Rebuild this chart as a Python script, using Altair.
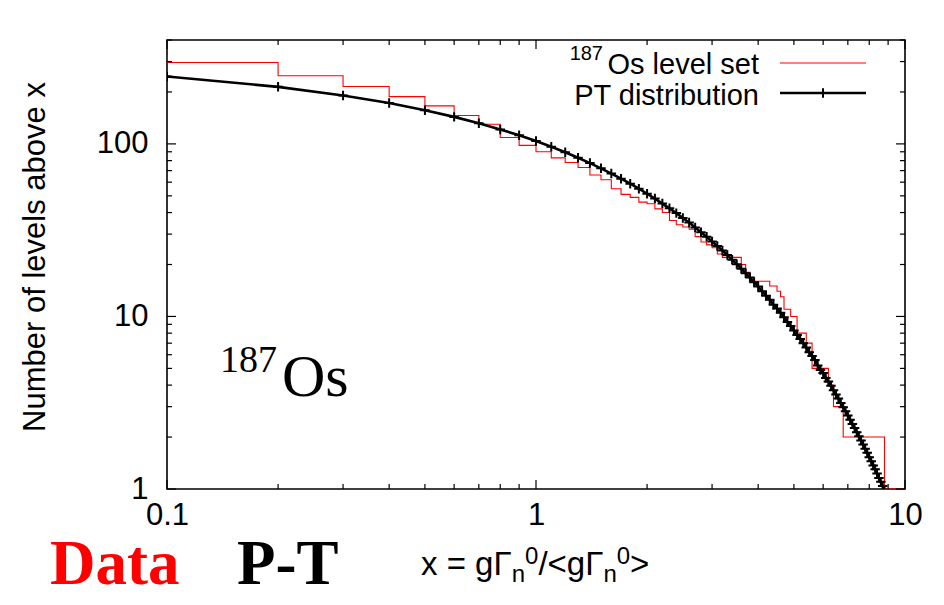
import altair as alt
import pandas as pd

# Porter-Thomas curve
pt_x = [0.1, 0.2, 0.3, 0.4, 0.5, 0.6, 0.7, 0.8, 0.9, 1.0,
        1.1, 1.2, 1.3, 1.4, 1.5, 1.6, 1.7, 1.8, 1.9, 2.0,
        2.1, 2.2, 2.3, 2.4, 2.5, 2.6, 2.7, 2.8, 2.9, 3.0,
        3.1, 3.2, 3.3, 3.4, 3.5, 3.6, 3.7, 3.8, 3.9, 4.0,
        4.1, 4.2, 4.3, 4.4, 4.5, 4.6, 4.7, 4.8, 4.9, 5.0,
        5.1, 5.2, 5.3, 5.4, 5.5, 5.6, 5.7, 5.8, 5.9, 6.0,
        6.1, 6.2, 6.3, 6.4, 6.5, 6.6, 6.7, 6.8, 6.9, 7.0,
        7.1, 7.2, 7.3, 7.4, 7.5, 7.6, 7.7, 7.8, 7.9, 8.0,
        8.1, 8.2, 8.3, 8.4, 8.5, 8.6, 8.7, 8.8]
pt_n = [245.8, 214.1, 190.9, 172.4, 156.8, 143.4, 131.7, 121.3, 112.1, 103.8,
        96.2, 89.4, 83.1, 77.4, 72.2, 67.3, 62.9, 58.8, 55.0, 51.4,
        48.2, 45.1, 42.3, 39.7, 37.2, 35.0, 32.8, 30.8, 29.0, 27.2,
        25.6, 24.1, 22.7, 21.3, 20.1, 18.9, 17.8, 16.8, 15.8, 14.9,
        14.0, 13.2, 12.5, 11.7, 11.1, 10.5, 9.9, 9.3, 8.8, 8.3,
        7.8, 7.4, 7.0, 6.6, 6.2, 5.9, 5.6, 5.2, 4.9, 4.7,
        4.4, 4.2, 3.96, 3.73, 3.53, 3.34, 3.15, 2.98, 2.82, 2.67,
        2.52, 2.38, 2.26, 2.13, 2.02, 1.91, 1.81, 1.71, 1.62, 1.53,
        1.45, 1.37, 1.30, 1.23, 1.16, 1.10, 1.04, 0.98]

# 187Os level set: cumulative count, step changes
lev_x = [0.05, 0.1, 0.2, 0.3, 0.4, 0.5, 0.6, 0.7, 0.8, 0.9, 1.0,
         1.1, 1.2, 1.3, 1.4, 1.5, 1.6, 1.7, 1.8, 1.9, 2.0,
         2.1, 2.2, 2.3, 2.4, 2.5, 2.6, 2.7, 2.8, 2.9, 3.0,
         3.1, 3.2, 3.6, 3.7, 3.8, 4.3, 4.5, 4.6, 4.7, 4.9,
         5.1, 5.4, 5.6, 6.2, 6.4, 6.8, 8.8, 10.0]
lev_n = [325, 296, 248, 215, 188, 166, 146, 130, 109, 98, 90,
         83, 78, 73, 66, 62, 55, 51, 49, 46, 45,
         42, 40, 36, 34, 33, 32, 29, 27, 26, 25,
         23, 22, 20, 18, 16, 15, 14, 13, 11, 10,
         8, 7, 5, 4, 3, 2, 1, 1]

x_major = [0.1, 1, 10]
x_minor = [0.2, 0.3, 0.4, 0.5, 0.6, 0.7, 0.8, 0.9, 2, 3, 4, 5, 6, 7, 8, 9]
y_major = [1, 10, 100]
y_minor = [2, 3, 4, 5, 6, 7, 8, 9, 20, 30, 40, 50, 60, 70, 80, 90, 200, 300, 400]

W, H = 738, 449
SANS = "Liberation Sans"
SERIF = "Liberation Serif"

xscale = alt.Scale(type="log", domain=[0.1, 10], nice=False)
yscale = alt.Scale(type="log", domain=[1, 400], nice=False)

pt_df = pd.DataFrame({"x": pt_x, "n": pt_n})
lev_df = pd.DataFrame({"x": lev_x, "n": lev_n})

xaxis = alt.Axis(values=x_major, format="~g", ticks=False, tickSize=0, domain=False, grid=False,
                 labelFont=SANS, labelFontSize=31, labelColor="black", labelPadding=11,
                 labelFlush=False, labelOverlap=False, title=None)
yaxis = alt.Axis(values=y_major, format="~g", ticks=False, tickSize=0, domain=False, grid=False,
                 labelFont=SANS, labelFontSize=31, labelColor="black", labelPadding=19,
                 labelOverlap=False, title=None)


def XE(field="x"):
    return alt.X(f"{field}:Q", scale=xscale, axis=xaxis)


def YE(field="n"):
    return alt.Y(f"{field}:Q", scale=yscale, axis=yaxis)


red = alt.Chart(lev_df).mark_line(interpolate="step-after", color="#ff0000", strokeWidth=1.1,
                                  clip=True).encode(x=XE(), y=YE())

black = alt.Chart(pt_df).mark_line(color="black", strokeWidth=2.6, clip=True).encode(x=XE(), y=YE())
plus = "M-1,0L1,0M0,-1L0,1"
pts = alt.Chart(pt_df).mark_point(shape=plus, size=90, strokeWidth=2, filled=False, color="black",
                                  opacity=1, clip=True).encode(x=XE(), y=YE())


def xticks(vals, length):
    d = pd.DataFrame({"x": vals})
    bot = alt.Chart(d).mark_rule(color="black", strokeWidth=1.2).encode(
        x=XE(), y=alt.value(H), y2=alt.value(H - length))
    top = alt.Chart(d).mark_rule(color="black", strokeWidth=1.2).encode(
        x=XE(), y=alt.value(0), y2=alt.value(length))
    return [bot, top]


def yticks(vals, length):
    d = pd.DataFrame({"n": vals})
    left = alt.Chart(d).mark_rule(color="black", strokeWidth=1.2).encode(
        y=YE(), x=alt.value(0), x2=alt.value(length))
    right = alt.Chart(d).mark_rule(color="black", strokeWidth=1.2).encode(
        y=YE(), x=alt.value(W), x2=alt.value(W - length))
    return [left, right]


ticks = xticks(x_major, 9) + xticks(x_minor, 5) + yticks(y_major, 9) + yticks(y_minor, 5)

one = alt.Data(values=[{"a": 1}])


def label(text, x, y, size, font=SANS, color="black", align="left", baseline="alphabetic",
          weight="normal", angle=0):
    return alt.Chart(one).mark_text(text=text, font=font, fontSize=size, color=color, align=align,
                                    baseline=baseline, fontWeight=weight, angle=angle).encode(
        x=alt.value(x), y=alt.value(y))


annotations = [
    # legend
    label("Os level set", 592, 34, 29, align="right"),
    label("187", 436, 20, 20, align="right"),
    label("PT distribution", 592, 65, 29, align="right"),
    # big isotope label
    label("187", 53, 332, 38, font=SERIF),
    label("Os", 115, 356, 60, font=SERIF),
    # y axis title
    label("Number of levels above x", -122, 217, 31, align="center", angle=270),
    # x axis title: x = gΓ_n^0/<gΓ_n^0>
    label("x = gΓ", 254, 535, 33),
    label("n", 344.8, 542, 24),
    label("0", 358.1, 524, 24),
    label("/<gΓ", 371.4, 535, 33),
    label("n", 436.5, 542, 24),
    label("0", 449.8, 524, 24),
    label(">", 463.1, 535, 33),
    # bottom-left tags
    label("Data", -117, 544, 63, font=SERIF, color="#ff0000", weight="bold"),
    label("P-T", 70, 544, 63, font=SERIF, weight="bold"),
]

leg_red = alt.Chart(one).mark_rule(color="#ff0000", strokeWidth=1.1).encode(
    x=alt.value(613), x2=alt.value(699), y=alt.value(23))
leg_black = alt.Chart(one).mark_rule(color="black", strokeWidth=2.6).encode(
    x=alt.value(613), x2=alt.value(699), y=alt.value(53))
leg_pt = alt.Chart(one).mark_point(shape=plus, size=90, strokeWidth=2, filled=False, color="black",
                                   opacity=1).encode(x=alt.value(656), y=alt.value(53))

chart = alt.layer(red, black, pts, *ticks, leg_red, leg_black, leg_pt, *annotations).properties(
    width=W, height=H,
    autosize=alt.AutoSizeParams(type="none"),
    padding={"left": 159, "top": 32, "right": 31, "bottom": 108},
).configure(
    background="white",
    view=alt.ViewConfig(stroke="black", strokeWidth=1.6),
)

chart.save("out.html", embed_options={"renderer": "svg", "actions": False})
